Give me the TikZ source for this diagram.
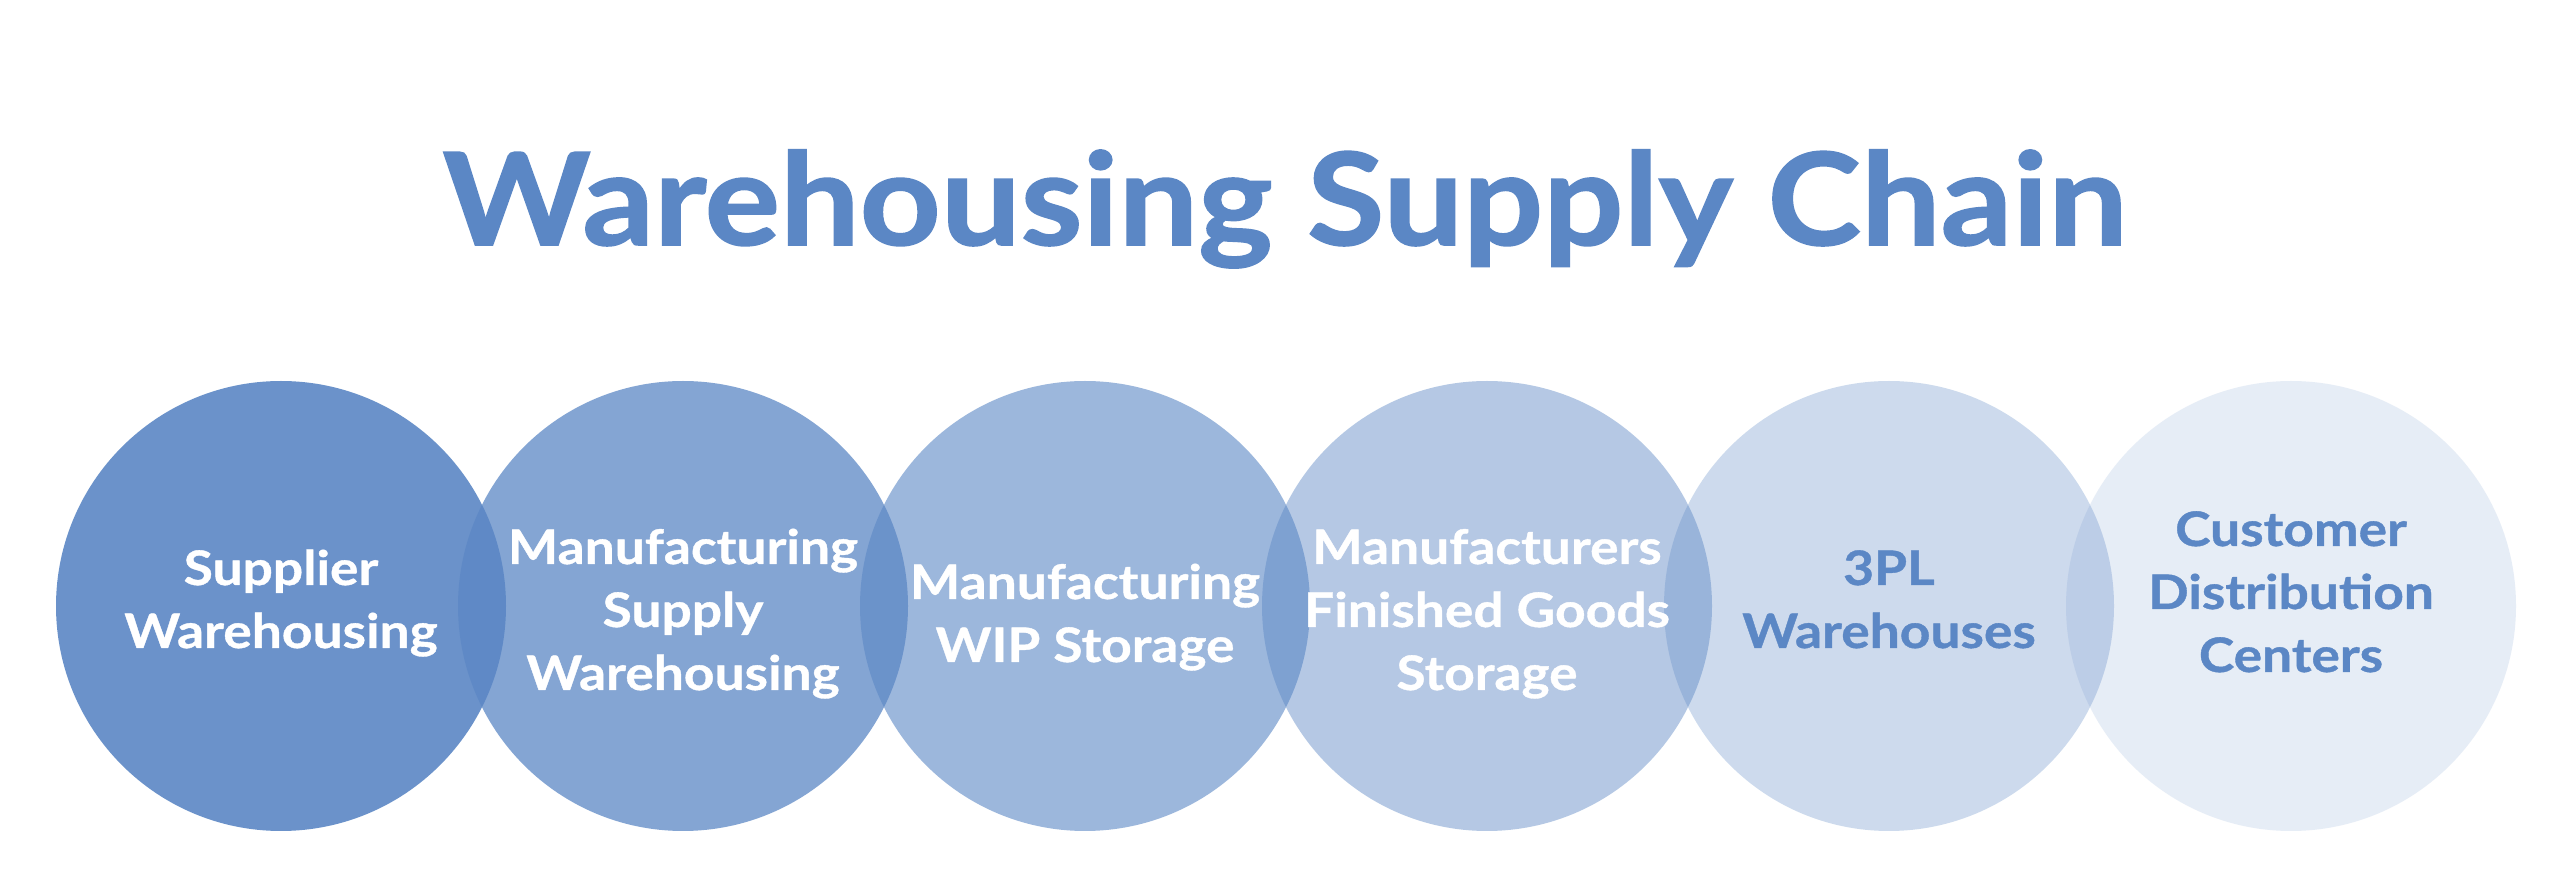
\documentclass[tikz,border=0pt]{standalone}
\usepackage{fontspec}
\setmainfont{Lato}
\newfontfamily\titlefont{Lato}[FakeStretch=1.10, BoldFeatures={FakeBold=1.2}]
\newfontfamily\lblfont{Lato}[FakeStretch=1.12, BoldFeatures={FakeBold=0.8}]
\definecolor{base}{HTML}{5B87C5}
\tikzset{
  bubble/.style={circle, minimum size=112.5pt, inner sep=0pt, fill=base, draw=none},
  lbl/.style={align=center, anchor=base, font=\lblfont\bfseries\fontsize{11.9}{15.75}\selectfont, inner sep=0pt},
  lightlbl/.style={lbl, text=white},
  darklbl/.style={lbl, text=base},
}
\begin{document}
\begin{tikzpicture}[x=0.25pt,y=0.25pt]
\useasboundingbox (0,0) rectangle (2560,889);
\fill[white] (0,0) rectangle (2560,889);
\node[font=\titlefont\bfseries\fontsize{32.1}{39}\selectfont, text=base, inner sep=0pt, anchor=base] (title) at (1285,644) {Warehousing Supply Chain};
\node[bubble, fill opacity=0.9]  (c1) at (281,283) {};
\node[bubble, fill opacity=0.75] (c2) at (683,283) {};
\node[bubble, fill opacity=0.6]  (c3) at (1085,283) {};
\node[bubble, fill opacity=0.45] (c4) at (1487,283) {};
\node[bubble, fill opacity=0.3]  (c5) at (1889,283) {};
\node[bubble, fill opacity=0.15] (c6) at (2291,283) {};
\node[lightlbl] (t1) at (281,241) {Supplier\\Warehousing};
\node[lightlbl] (t2) at (683,199) {Manufacturing\\Supply\\Warehousing};
\node[lightlbl] (t3) at (1085,227) {Manufacturing\\WIP Storage};
\node[lightlbl] (t4) at (1487,199) {Manufacturers\\Finished Goods\\Storage};
\node[darklbl] (t5) at (1889,241) {3PL\\Warehouses};
\node[darklbl] (t6) at (2291,217) {Customer\\Distribution\\Centers};
\end{tikzpicture}
\end{document}
